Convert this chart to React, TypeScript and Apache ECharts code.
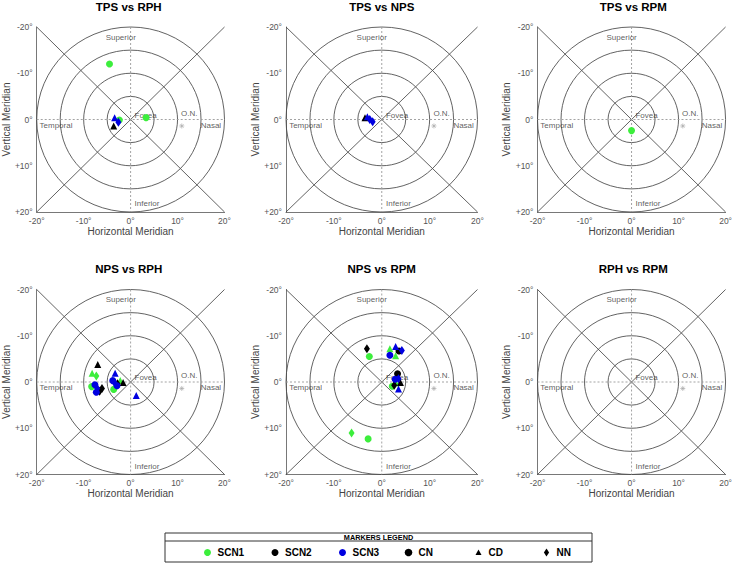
import React, { useEffect, useRef } from "react";
import * as echarts from "echarts";

// ---------- data ----------
const panelTitles = ["TPS vs RPH", "TPS vs NPS", "TPS vs RPM", "NPS vs RPH", "NPS vs RPM", "RPH vs RPM"];
const xTickLabels = ["-20°", "-10°", "0°", "10°", "20°"];
const yTickLabels = ["-20°", "-10°", "0°", "+10°", "+20°"];
const ringRadii = [5, 10, 15, 20];
const landmarkNames = ["Superior", "Inferior", "Temporal", "Nasal", "Fovea", "O.N."];
const landmarkX = [-2.1, 3.5, -15.9, 17.1, 3.2, 12.5];
const landmarkY = [-17.8, 18.2, 1.2, 1.2, -0.9, -1.3];
const opticNerve = [10.9, 1.4];

// [horizontal°, vertical°, scan, marker]
const tpsVsRph: [number, number, string, string][] = [
  [-4.5, -12.0, "SCN1", "CN"],
  [3.3, -0.4, "SCN1", "CN"],
  [-2.4, 0.1, "SCN1", "CN"],
  [-3.4, -0.4, "SCN3", "CD"],
  [-2.6, 0.6, "SCN3", "NN"],
  [-3.6, 1.4, "SCN2", "CD"],
];
const tpsVsNps: [number, number, string, string][] = [
  [-3.5, -0.4, "SCN2", "CD"],
  [-3.0, -0.6, "SCN3", "CD"],
  [-2.5, 0.0, "SCN3", "NN"],
  [-1.9, 0.5, "SCN3", "NN"],
];
const tpsVsRpm: [number, number, string, string][] = [
  [0.0, 2.4, "SCN1", "CN"],
];
const npsVsRph: [number, number, string, string][] = [
  [-7.0, -3.8, "SCN2", "CD"],
  [-8.2, -1.9, "SCN1", "CD"],
  [-7.3, -1.3, "SCN1", "NN"],
  [-8.3, 1.0, "SCN1", "CN"],
  [-7.6, 0.6, "SCN3", "CN"],
  [-7.1, 1.4, "SCN3", "NN"],
  [-7.3, 2.2, "SCN3", "CN"],
  [-6.6, 2.0, "SCN2", "NN"],
  [-6.1, 1.4, "SCN2", "NN"],
  [-3.3, -1.9, "SCN3", "CD"],
  [-3.8, -0.3, "SCN3", "CN"],
  [-3.3, 0.3, "SCN3", "NN"],
  [-2.9, 0.8, "SCN3", "CN"],
  [-3.6, 1.6, "SCN1", "CN"],
  [-2.2, -0.3, "SCN1", "CD"],
  [-2.8, 0.4, "SCN2", "NN"],
  [-1.6, 0.1, "SCN2", "CD"],
  [1.2, 2.9, "SCN3", "CD"],
];
const npsVsRpm: [number, number, string, string][] = [
  [-3.1, -7.2, "SCN2", "NN"],
  [-2.6, -5.5, "SCN1", "CN"],
  [1.7, -7.2, "SCN1", "CD"],
  [2.9, -7.7, "SCN3", "CD"],
  [3.6, -6.7, "SCN2", "CN"],
  [4.2, -6.8, "SCN3", "NN"],
  [1.7, -5.8, "SCN3", "CN"],
  [2.9, -5.7, "SCN1", "CD"],
  [3.3, -1.8, "SCN2", "CN"],
  [2.8, -0.6, "SCN3", "CN"],
  [3.5, -0.7, "SCN3", "NN"],
  [3.9, 0.1, "SCN2", "CD"],
  [3.0, 0.2, "SCN1", "CD"],
  [2.6, 0.7, "SCN2", "NN"],
  [2.2, 0.9, "SCN1", "CN"],
  [3.5, 1.5, "SCN3", "CD"],
  [-6.3, 11.0, "SCN1", "NN"],
  [-2.85, 12.3, "SCN1", "CN"],
];
const rphVsRpm: [number, number, string, string][] = [];

const panelPoints = [tpsVsRph, tpsVsNps, tpsVsRpm, npsVsRph, npsVsRpm, rphVsRpm];

const scanNames = ["SCN1", "SCN2", "SCN3"];
const markerNames = ["CN", "CD", "NN"];
const legendLabels = ["SCN1", "SCN2", "SCN3", "CN", "CD", "NN"];

// ---------- styles ----------
const FONT = "'Liberation Sans', Arial, sans-serif";
const scanColors: Record<string, string> = { SCN1: "#3cee3c", SCN2: "#000000", SCN3: "#0000e0" };
const markerSymbols: Record<string, { symbol: string; size: number | number[] }> = {
  CN: { symbol: "circle", size: 7 },
  CD: { symbol: "triangle", size: 7 },
  NN: { symbol: "diamond", size: [6, 9] },
};
const AX_MIN = -20;
const AX_MAX = 20;
const colLefts = [33, 286, 537.5];
const rowTops = [27, 289.5];
const GRID_W = 191.5;
const GRID_H = 185;
const GUIDE = "#474747";

function buildOption() {
  const grids: any[] = [];
  const xAxes: any[] = [];
  const yAxes: any[] = [];
  const series: any[] = [];
  const graphics: any[] = [];

  panelTitles.forEach((title, i) => {
    const col = i % 3;
    const row = Math.floor(i / 3);
    const left = colLefts[col];
    const top = rowTops[row];
    grids.push({ left, top, width: GRID_W, height: GRID_H, containLabel: false });
    xAxes.push({
      gridIndex: i,
      type: "value",
      min: AX_MIN,
      max: AX_MAX,
      interval: 10,
      axisLine: { show: true, onZero: false, lineStyle: { color: "#555", width: 0.8 } },
      axisTick: { show: false },
      splitLine: { show: false },
      axisLabel: {
        formatter: (v: number) => xTickLabels[Math.round((v - AX_MIN) / 10)],
        fontSize: 8.5,
        color: "#555",
        margin: 4,
        fontFamily: FONT,
      },
      name: "Horizontal Meridian",
      nameLocation: "middle",
      nameGap: 14,
      nameTextStyle: { fontSize: 10, color: "#444", fontFamily: FONT },
    });
    yAxes.push({
      gridIndex: i,
      type: "value",
      inverse: true,
      min: AX_MIN,
      max: AX_MAX,
      interval: 10,
      axisLine: { show: true, onZero: false, lineStyle: { color: "#555", width: 0.8 } },
      axisTick: { show: false },
      splitLine: { show: false },
      axisLabel: {
        formatter: (v: number) => yTickLabels[Math.round((v - AX_MIN) / 10)],
        fontSize: 8.5,
        color: "#555",
        margin: 4,
        fontFamily: FONT,
      },
      name: "Vertical Meridian",
      nameLocation: "middle",
      nameGap: 22,
      nameTextStyle: { fontSize: 10, color: "#444", fontFamily: FONT },
    });

    // guides: rings, diagonals, dashed meridians, optic nerve asterisk
    series.push({
      type: "custom",
      xAxisIndex: i,
      yAxisIndex: i,
      data: [[0, 0]],
      silent: true,
      clip: false,
      z: 1,
      renderItem: (_p: any, api: any) => {
        const c = api.coord([0, 0]);
        const children: any[] = [];
        ringRadii.forEach((r) => {
          const s = api.size([2 * r, 2 * r], [0, 0]);
          children.push({
            type: "ellipse",
            shape: { cx: c[0], cy: c[1], rx: s[0] / 2, ry: s[1] / 2 },
            style: { fill: "none", stroke: GUIDE, lineWidth: 0.85 },
          });
        });
        const tl = api.coord([AX_MIN, AX_MIN]);
        const br = api.coord([AX_MAX, AX_MAX]);
        const tr = api.coord([AX_MAX, AX_MIN]);
        const bl = api.coord([AX_MIN, AX_MAX]);
        children.push({ type: "line", shape: { x1: tl[0], y1: tl[1], x2: br[0], y2: br[1] }, style: { stroke: GUIDE, lineWidth: 0.85 } });
        children.push({ type: "line", shape: { x1: bl[0], y1: bl[1], x2: tr[0], y2: tr[1] }, style: { stroke: GUIDE, lineWidth: 0.85 } });
        const hl = api.coord([AX_MIN, 0]);
        const hr = api.coord([AX_MAX, 0]);
        const vt = api.coord([0, AX_MIN]);
        const vb = api.coord([0, AX_MAX]);
        children.push({ type: "line", shape: { x1: hl[0], y1: hl[1], x2: hr[0], y2: hr[1] }, style: { stroke: "#999", lineWidth: 0.9, lineDash: [2, 2] } });
        children.push({ type: "line", shape: { x1: vt[0], y1: vt[1], x2: vb[0], y2: vb[1] }, style: { stroke: "#999", lineWidth: 0.9, lineDash: [2, 2] } });
        const on = api.coord(opticNerve);
        const a = 2.5;
        const starStyle = { stroke: "#aaa", lineWidth: 0.7 };
        children.push({ type: "line", shape: { x1: on[0] - a, y1: on[1], x2: on[0] + a, y2: on[1] }, style: starStyle });
        children.push({ type: "line", shape: { x1: on[0], y1: on[1] - a, x2: on[0], y2: on[1] + a }, style: starStyle });
        children.push({ type: "line", shape: { x1: on[0] - a * 0.7, y1: on[1] - a * 0.7, x2: on[0] + a * 0.7, y2: on[1] + a * 0.7 }, style: starStyle });
        children.push({ type: "line", shape: { x1: on[0] - a * 0.7, y1: on[1] + a * 0.7, x2: on[0] + a * 0.7, y2: on[1] - a * 0.7 }, style: starStyle });
        return { type: "group", children };
      },
    });

    // landmark labels placed through the axes
    series.push({
      type: "scatter",
      name: "landmarks",
      xAxisIndex: i,
      yAxisIndex: i,
      data: landmarkNames.map((n, k) => ({ name: n, value: [landmarkX[k], landmarkY[k]] })),
      symbolSize: 0,
      itemStyle: { color: "#333333" },
      label: {
        show: true,
        position: "inside",
        formatter: "{b}",
        color: "#333333",
        fontSize: 8,
        fontFamily: FONT,
      },
      silent: true,
      z: 2,
    });

    // data markers
    const pts = panelPoints[i];
    scanNames.forEach((scan) => {
      markerNames.forEach((mk) => {
        const d = pts.filter((p) => p[2] === scan && p[3] === mk).map((p) => [p[0], p[1]]);
        if (!d.length) return;
        series.push({
          type: "scatter",
          name: `${scan} ${mk}`,
          xAxisIndex: i,
          yAxisIndex: i,
          data: d,
          symbol: markerSymbols[mk].symbol,
          symbolSize: markerSymbols[mk].size,
          itemStyle: { color: scanColors[scan], opacity: 1 },
          z: 3,
          silent: true,
        });
      });
    });

    // title
    graphics.push({
      type: "text",
      x: left + GRID_W / 2,
      y: row === 0 ? 7 : 269,
      style: {
        text: title,
        font: `bold 11.5px ${FONT}`,
        fill: "#000",
        align: "center",
        verticalAlign: "middle",
      },
    });
  });

  // legend box
  const LX = 165, LY = 533, LW = 427, LH = 29, LHEAD = 8;
  graphics.push({ type: "rect", shape: { x: LX, y: LY, width: LW, height: LH }, style: { fill: "#fff", stroke: "#333", lineWidth: 1 } });
  graphics.push({ type: "line", shape: { x1: LX, y1: LY + LHEAD, x2: LX + LW, y2: LY + LHEAD }, style: { stroke: "#333", lineWidth: 1 } });
  graphics.push({
    type: "text",
    x: LX + LW / 2,
    y: LY + LHEAD / 2 + 0.5,
    style: { text: "MARKERS LEGEND", font: `bold 7.3px ${FONT}`, fill: "#000", align: "center", verticalAlign: "middle" },
  });
  const itemMarkX = [207.5, 275, 342.5, 408.5, 478.5, 546.5];
  const itemY = 552.5;
  legendLabels.forEach((lab, k) => {
    const mx = itemMarkX[k];
    let color = "#000";
    let kind = "circle";
    if (scanNames.includes(lab)) color = scanColors[lab];
    else kind = markerSymbols[lab].symbol;
    if (kind === "circle") {
      graphics.push({ type: "circle", shape: { cx: mx, cy: itemY, r: k === 3 ? 3.8 : 3.5 }, style: { fill: color } });
    } else if (kind === "triangle") {
      graphics.push({ type: "polygon", shape: { points: [[mx, itemY - 3], [mx + 3, itemY + 2.5], [mx - 3, itemY + 2.5]] }, style: { fill: color } });
    } else {
      graphics.push({ type: "polygon", shape: { points: [[mx, itemY - 4], [mx + 2.6, itemY], [mx, itemY + 4], [mx - 2.6, itemY]] }, style: { fill: color } });
    }
    graphics.push({
      type: "text",
      x: mx + 10,
      y: itemY,
      style: { text: lab, font: `bold 10px ${FONT}`, fill: "#000", align: "left", verticalAlign: "middle" },
    });
  });

  return {
    animation: false,
    backgroundColor: "#fff",
    grid: grids,
    xAxis: xAxes,
    yAxis: yAxes,
    series,
    graphic: graphics,
  };
}

export default function App() {
  const ref = useRef<HTMLDivElement>(null);
  useEffect(() => {
    if (!ref.current) return;
    const chart = echarts.init(ref.current, null, { renderer: "svg" });
    chart.setOption(buildOption() as any);
    return () => chart.dispose();
  }, []);
  return (
    <div
      ref={ref}
      style={{ position: "absolute", left: 0, top: 0, width: 735, height: 563, background: "#fff" }}
    />
  );
}
